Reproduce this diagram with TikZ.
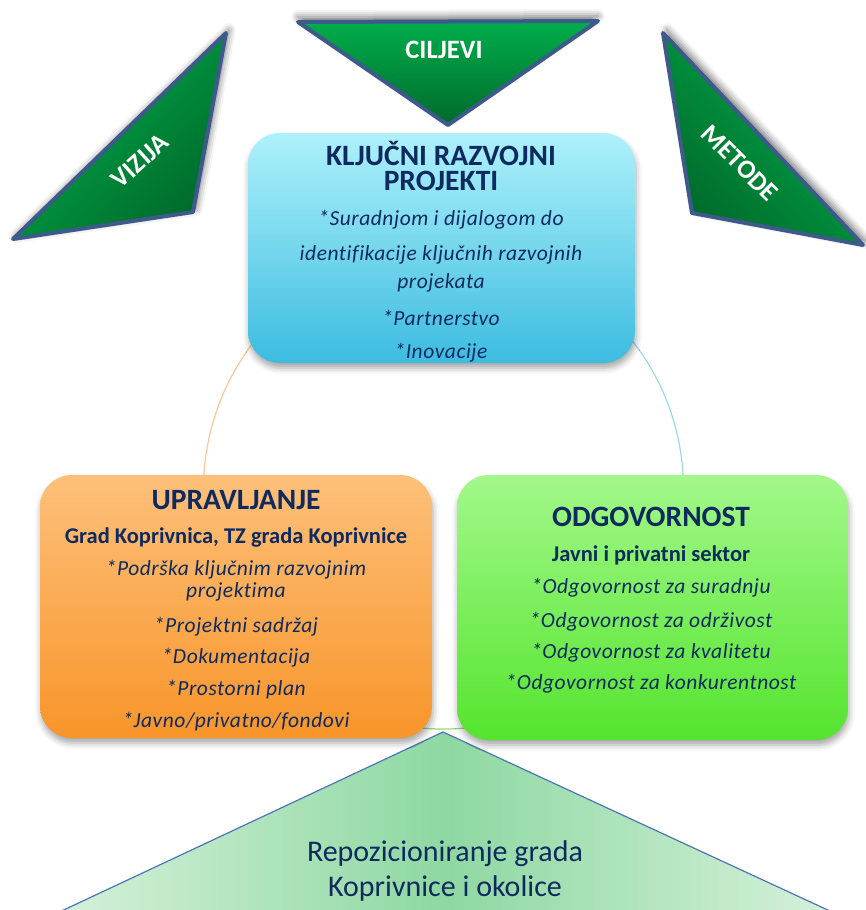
\documentclass[tikz,border=0pt]{standalone}
\usepackage{fontspec}
\setmainfont{Carlito}
\usetikzlibrary{shadows.blur}

\definecolor{navy}{HTML}{0E2A5E}
\definecolor{triblue}{HTML}{3D5A8A}
\definecolor{trilight}{HTML}{00AE4C}
\definecolor{tridark}{HTML}{006A2B}
\definecolor{cyantop}{HTML}{AEF1FB}
\definecolor{cyanbot}{HTML}{3CBCE0}
\definecolor{orangetop}{HTML}{FDC07A}
\definecolor{orangebot}{HTML}{F8952A}
\definecolor{greentop}{HTML}{A2F88A}
\definecolor{greenbot}{HTML}{55E42E}
\definecolor{arcorange}{HTML}{FCC59A}
\definecolor{arccyan}{HTML}{9ED8EC}
\definecolor{arcgreen}{HTML}{8EE070}
\definecolor{baseedge}{HTML}{4A76B8}
\definecolor{basemid}{HTML}{8ED8A2}
\definecolor{baseside}{HTML}{DDF3E0}

\begin{document}
\begin{tikzpicture}[x=1pt,y=-1pt,
  panel/.style={rounded corners=32pt, draw=none, inner sep=0pt,
    blur shadow={shadow xshift=1pt, shadow yshift=-5pt, shadow blur radius=6pt, shadow opacity=35}},
  wedge/.style={draw=triblue, line width=4pt, line join=round,
    blur shadow={shadow blur radius=7pt, shadow opacity=30}},
  wedgetext/.style={text=white, font=\bfseries\fontsize{26.5}{28}\selectfont, inner sep=0pt},
  ttl/.style={text=navy, font=\bfseries\fontsize{29.5}{32}\selectfont, inner sep=0pt},
  sub/.style={text=navy, font=\bfseries\fontsize{22.5}{24}\selectfont, inner sep=0pt},
  item/.style={text=navy, font=\itshape\fontsize{21.5}{24}\selectfont\addfontfeatures{LetterSpace=2.5,Ligatures=NoCommon}, inner sep=0pt},
  ring/.style={line width=1.2pt}
]
\useasboundingbox (0,0) rectangle (865,910);

% ring linking the three panels
\coordinate (ctr) at (443.5,489);
\draw[ring, arcorange] (ctr) ++(150:240) arc[start angle=150, end angle=235, radius=240];
\draw[ring, arccyan]   (ctr) ++(305:240) arc[start angle=305, end angle=390, radius=240];
\draw[ring, arcgreen]  (ctr) ++(30:240)  arc[start angle=30, end angle=150, radius=240];

% base triangle
\begin{scope}
  \clip (0,0) rectangle (865,910);
  \coordinate (bApex) at (443,732);
  \coordinate (bLeft) at (21,930);
  \coordinate (bRight) at (871,930);
  \path[left color=baseside, right color=baseside, middle color=basemid]
    (bApex) -- (bLeft) -- (bRight) -- cycle;
  \draw[baseedge, line width=1.2pt, line join=miter] (bLeft) -- (bApex) -- (bRight);
\end{scope}
\node[text=navy, font=\fontsize{30}{35}\selectfont, align=center, inner sep=0pt] (rep) at (445,871)
  {Repozicioniranje grada\\Koprivnice i okolice};

% panels
\node[panel, top color=cyantop, bottom color=cyanbot, minimum width=387pt, minimum height=230pt] (kp) at (441.5,248) {};
\node[panel, top color=orangetop, bottom color=orangebot, minimum width=392pt, minimum height=263pt] (up) at (236,606.5) {};
\node[panel, top color=greentop, bottom color=greenbot, minimum width=391pt, minimum height=265pt] (od) at (652.5,607.5) {};

% top panel text
\node[ttl] (kp1) at (441,153) {KLJUČNI RAZVOJNI};
\node[ttl] (kp2) at (441,181) {PROJEKTI};
\node[item] (kp3) at (441,220) {*Suradnjom i dijalogom do};
\node[item] (kp4) at (441,255) {identifikacije ključnih razvojnih};
\node[item] (kp5) at (441,283) {projekata};
\node[item] (kp6) at (441,318) {*Partnerstvo};
\node[item] (kp7) at (441,353) {*Inovacije};

% left panel text
\node[ttl] (up1) at (236,500) {UPRAVLJANJE};
\node[sub] (up2) at (236,538) {Grad Koprivnica, TZ grada Koprivnice};
\node[item] (up3) at (236,570) {*Podrška ključnim razvojnim};
\node[item] (up4) at (236,592) {projektima};
\node[item] (up5) at (236,627) {*Projektni sadržaj};
\node[item] (up6) at (236,658) {*Dokumentacija};
\node[item] (up7) at (236,690) {*Prostorni plan};
\node[item] (up8) at (236,722) {*Javno/privatno/fondovi};

% right panel text
\node[ttl] (od1) at (651,517) {ODGOVORNOST};
\node[sub] (od2) at (651,555) {Javni i privatni sektor};
\node[item] (od3) at (651,588) {*Odgovornost za suradnju};
\node[item] (od4) at (651,622) {*Odgovornost za održivost};
\node[item] (od5) at (651,653) {*Odgovornost za kvalitetu};
\node[item] (od6) at (651,684) {*Odgovornost za konkurentnost};

% wedges at the top
\path[wedge, top color=trilight, bottom color=tridark, shading angle=45,
  blur shadow={shadow xshift=3pt, shadow yshift=3pt}]
  (226,33) -- (13,239) -- (193,212) -- cycle;
\node[wedgetext, rotate=42] (viz) at (140,161) {VIZIJA};

\path[wedge, top color=trilight, bottom color=tridark,
  blur shadow={shadow xshift=0pt, shadow yshift=5pt}]
  (298,22) -- (598,21) -- (448,125) -- cycle;
\node[wedgetext] (cil) at (444,50) {CILJEVI};

\path[wedge, top color=trilight, bottom color=tridark, shading angle=-45,
  blur shadow={shadow xshift=4pt, shadow yshift=3pt}]
  (663,33) -- (863,245) -- (692,213) -- cycle;
\node[wedgetext, rotate=-45] (met) at (740,163) {METODE};
\end{tikzpicture}
\end{document}
